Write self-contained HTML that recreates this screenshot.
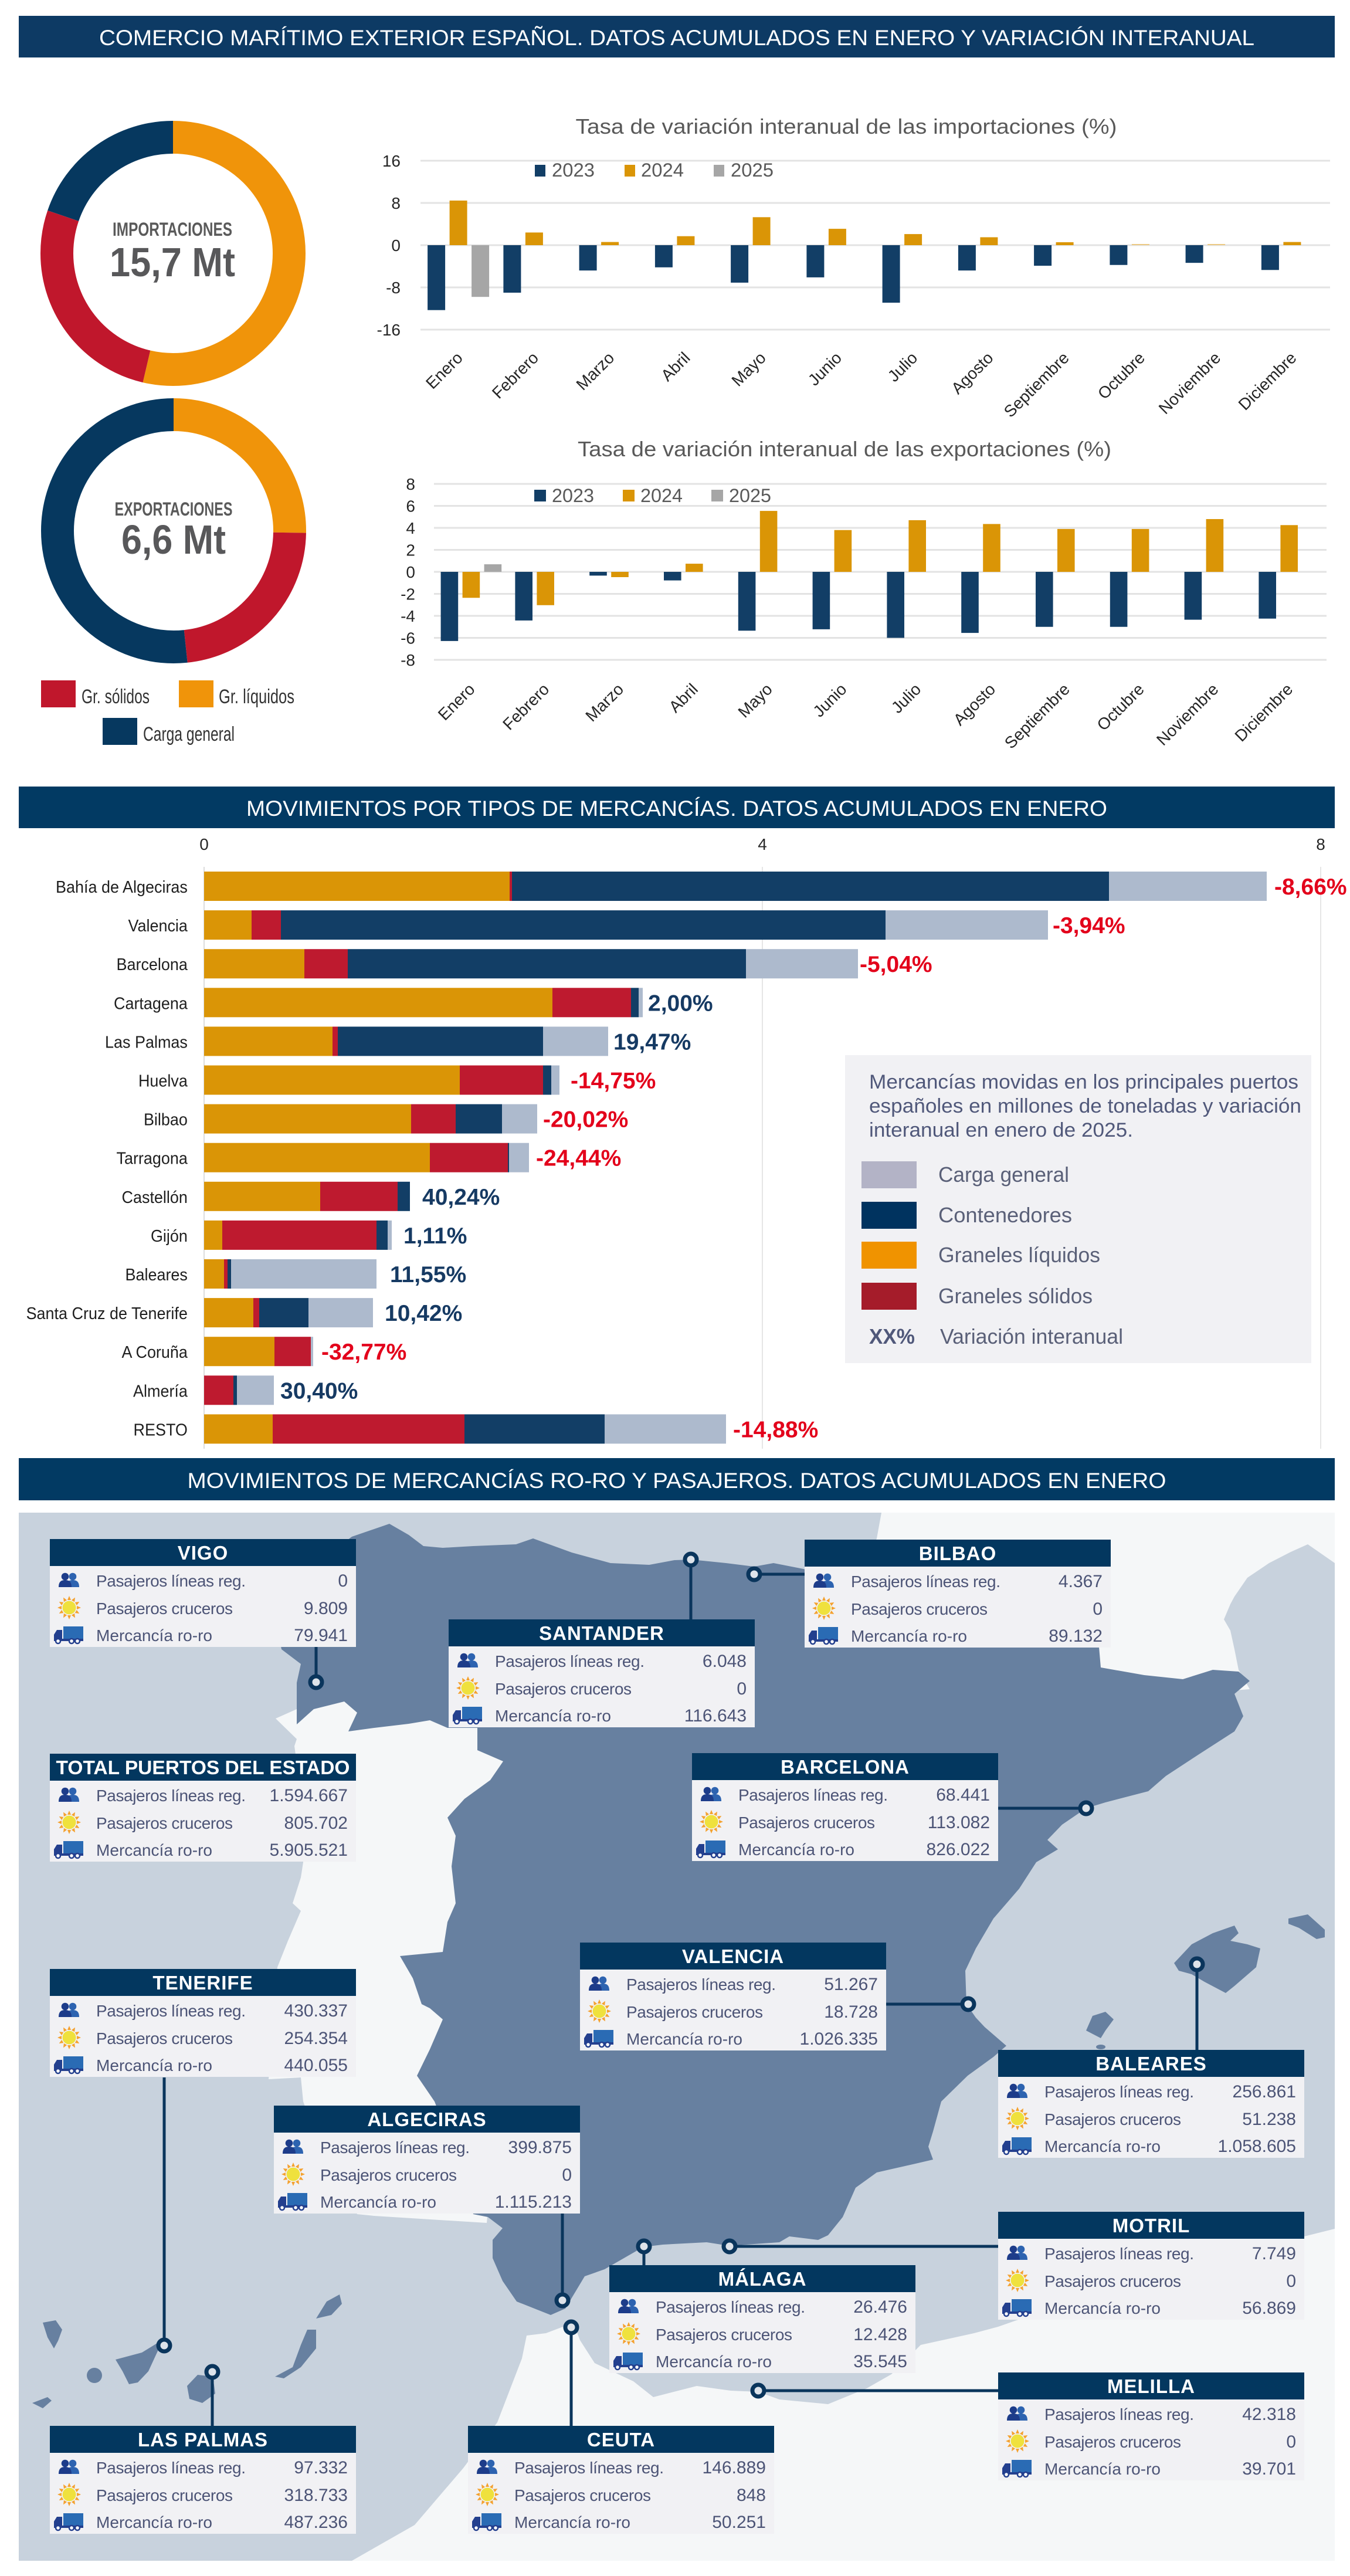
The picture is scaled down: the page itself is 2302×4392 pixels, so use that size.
<!DOCTYPE html>
<html><head><meta charset="utf-8">
<style>html,body{margin:0;padding:0;background:#fff;}svg{display:block}</style>
</head><body>
<svg xmlns="http://www.w3.org/2000/svg" width="2302" height="4392" viewBox="0 0 2302 4392">
<style>
text{font-family:"Liberation Sans",sans-serif;}
.n{font-family:"Liberation Sans Narrow","Liberation Sans",sans-serif;}
.hd{fill:#fff;font-size:37px;}
.yl{font-size:28px;fill:#262626;text-anchor:end;}
.ml{font-size:28px;fill:#262626;text-anchor:end;}
.cat{font-size:29px;fill:#1f1f1f;text-anchor:end;}
.vr{font-size:39px;font-weight:bold;fill:#e3001b;}
.vn{font-size:39px;font-weight:bold;fill:#163a63;}
.bh{font-size:33px;font-weight:bold;fill:#fff;text-anchor:middle;letter-spacing:1px;}
.bl{font-size:28px;fill:#4c5476;}
.bv{font-size:30px;fill:#4c5476;text-anchor:end;}
</style>
<defs>
<g id="ppl">
 <circle cx="6" cy="-6" r="6.3" fill="#2d63b0"/>
 <path d="M-5,12 C-5,2 0,0 6,0 C12,0 17,2 17,12 Z" fill="#2d63b0"/>
 <circle cx="-7" cy="-6" r="6.3" fill="#1d3c8a"/>
 <path d="M-18,12 C-18,2 -13,0 -7,0 C-1,0 4,2 4,12 Z" fill="#1d3c8a"/>
</g>
<g id="sun">
 <g fill="#f4a12e">
  <polygon points="-3,-13 3,-13 0,-20"/>
  <polygon points="-3,-13 3,-13 0,-20" transform="rotate(30)"/>
  <polygon points="-3,-13 3,-13 0,-20" transform="rotate(60)"/>
  <polygon points="-3,-13 3,-13 0,-20" transform="rotate(90)"/>
  <polygon points="-3,-13 3,-13 0,-20" transform="rotate(120)"/>
  <polygon points="-3,-13 3,-13 0,-20" transform="rotate(150)"/>
  <polygon points="-3,-13 3,-13 0,-20" transform="rotate(180)"/>
  <polygon points="-3,-13 3,-13 0,-20" transform="rotate(210)"/>
  <polygon points="-3,-13 3,-13 0,-20" transform="rotate(240)"/>
  <polygon points="-3,-13 3,-13 0,-20" transform="rotate(270)"/>
  <polygon points="-3,-13 3,-13 0,-20" transform="rotate(300)"/>
  <polygon points="-3,-13 3,-13 0,-20" transform="rotate(330)"/>
 </g>
 <circle r="11.5" fill="#efe13d"/>
</g>
<g id="truck">
 <rect x="-10" y="-14" width="34" height="21" fill="#2a6bb4"/>
 <path d="M-26,9 L-26,0 L-21,-8 L-12,-8 L-12,9 Z" fill="#233f8e"/>
 <rect x="-26" y="7" width="50" height="4" fill="#233f8e"/>
 <circle cx="-19" cy="11" r="4" fill="#fff" stroke="#233f8e" stroke-width="2.5"/>
 <circle cx="4" cy="11" r="4" fill="#fff" stroke="#233f8e" stroke-width="2.5"/>
 <circle cx="14" cy="11" r="4" fill="#fff" stroke="#233f8e" stroke-width="2.5"/>
</g>
<clipPath id="mapclip"><rect x="32" y="2579" width="2244" height="1787"/></clipPath>
</defs>

<!-- ============ SECTION 1 ============ -->
<rect x="32" y="27" width="2244" height="71" fill="#0d3a64"/>
<text class="n hd" x="1154" y="77" text-anchor="middle" textLength="1970" lengthAdjust="spacingAndGlyphs" font-size="36">COMERCIO MARÍTIMO EXTERIOR ESPAÑOL. DATOS ACUMULADOS EN ENERO Y VARIACIÓN INTERANUAL</text>

<g fill="none" stroke-width="56">
 <circle cx="295" cy="432" r="198" stroke="#f0940a" stroke-dasharray="667.3 1244.07" stroke-dashoffset="0" transform="rotate(-90 295 432)"/>
 <circle cx="295" cy="432" r="198" stroke="#c0172c" stroke-dasharray="330.7 1244.07" stroke-dashoffset="-667.3" transform="rotate(-90 295 432)"/>
 <circle cx="295" cy="432" r="198" stroke="#06385f" stroke-dasharray="246.1 1244.07" stroke-dashoffset="-998" transform="rotate(-90 295 432)"/>
 <circle cx="296" cy="905" r="198" stroke="#f0940a" stroke-dasharray="314.1 1244.07" stroke-dashoffset="0" transform="rotate(-90 296 905)"/>
 <circle cx="296" cy="905" r="198" stroke="#c0172c" stroke-dasharray="286.9 1244.07" stroke-dashoffset="-314.1" transform="rotate(-90 296 905)"/>
 <circle cx="296" cy="905" r="198" stroke="#06385f" stroke-dasharray="643.1 1244.07" stroke-dashoffset="-601" transform="rotate(-90 296 905)"/>
</g>
<text class="n" x="294" y="402" text-anchor="middle" font-size="32" font-weight="bold" fill="#5a5a5a" textLength="204" lengthAdjust="spacingAndGlyphs">IMPORTACIONES</text>
<text class="n" x="294" y="471" text-anchor="middle" font-size="70" font-weight="bold" fill="#58585a" textLength="214" lengthAdjust="spacingAndGlyphs">15,7 Mt</text>
<text class="n" x="296" y="879" text-anchor="middle" font-size="32" font-weight="bold" fill="#5a5a5a" textLength="201" lengthAdjust="spacingAndGlyphs">EXPORTACIONES</text>
<text class="n" x="296" y="944" text-anchor="middle" font-size="70" font-weight="bold" fill="#58585a" textLength="178" lengthAdjust="spacingAndGlyphs">6,6 Mt</text>

<rect x="70" y="1160" width="59" height="46" fill="#c0172c"/>
<text class="n" x="139" y="1199" font-size="34" fill="#333" textLength="116" lengthAdjust="spacingAndGlyphs">Gr. sólidos</text>
<rect x="305" y="1160" width="59" height="46" fill="#f0940a"/>
<text class="n" x="373" y="1199" font-size="34" fill="#333" textLength="129" lengthAdjust="spacingAndGlyphs">Gr. líquidos</text>
<rect x="175" y="1224" width="59" height="46" fill="#06385f"/>
<text class="n" x="244" y="1263" font-size="34" fill="#333" textLength="156" lengthAdjust="spacingAndGlyphs">Carga general</text>

<!-- Import chart -->
<text class="n" x="1443" y="228" text-anchor="middle" font-size="36" fill="#595959" textLength="923" lengthAdjust="spacingAndGlyphs">Tasa de variación interanual de las importaciones (%)</text>
<g stroke="#e3e3e3" stroke-width="3">
 <line x1="717" y1="274" x2="2268" y2="274"/>
 <line x1="717" y1="346" x2="2268" y2="346"/>
 <line x1="717" y1="418" x2="2268" y2="418"/>
 <line x1="717" y1="490" x2="2268" y2="490"/>
 <line x1="717" y1="562" x2="2268" y2="562"/>
</g>
<text class="yl" x="683" y="284">16</text>
<text class="yl" x="683" y="356">8</text>
<text class="yl" x="683" y="428">0</text>
<text class="yl" x="683" y="500">-8</text>
<text class="yl" x="683" y="572">-16</text>
<rect x="912" y="281" width="18" height="20" fill="#123e66"/>
<text class="n" x="941" y="301" font-size="32" fill="#595959" textLength="73" lengthAdjust="spacingAndGlyphs">2023</text>
<rect x="1065" y="281" width="18" height="20" fill="#da9506"/>
<text class="n" x="1093" y="301" font-size="32" fill="#595959" textLength="73" lengthAdjust="spacingAndGlyphs">2024</text>
<rect x="1217" y="281" width="18" height="20" fill="#a6a6a6"/>
<text class="n" x="1246" y="301" font-size="32" fill="#595959" textLength="73" lengthAdjust="spacingAndGlyphs">2025</text>
<g fill="#123e66">
 <rect x="729.1" y="418" width="30" height="110.7"/>
 <rect x="858.4" y="418" width="30" height="81"/>
 <rect x="987.6" y="418" width="30" height="43.2"/>
 <rect x="1116.9" y="418" width="30" height="37.8"/>
 <rect x="1246.1" y="418" width="30" height="63.9"/>
 <rect x="1375.4" y="418" width="30" height="54.9"/>
 <rect x="1504.6" y="418" width="30" height="98.1"/>
 <rect x="1633.9" y="418" width="30" height="43.2"/>
 <rect x="1763.1" y="418" width="30" height="35.1"/>
 <rect x="1892.4" y="418" width="30" height="33.75"/>
 <rect x="2021.6" y="418" width="30" height="30.15"/>
 <rect x="2150.9" y="418" width="30" height="42.3"/>
</g>
<g fill="#da9506">
 <rect x="766.6" y="341.95" width="30" height="76.05"/>
 <rect x="895.9" y="396.4" width="30" height="21.6"/>
 <rect x="1025.1" y="412.6" width="30" height="5.4"/>
 <rect x="1154.4" y="402.7" width="30" height="15.3"/>
 <rect x="1283.6" y="370.3" width="30" height="47.7"/>
 <rect x="1412.9" y="390.1" width="30" height="27.9"/>
 <rect x="1542.1" y="399.1" width="30" height="18.9"/>
 <rect x="1671.4" y="404.5" width="30" height="13.5"/>
 <rect x="1800.6" y="413" width="30" height="5"/>
 <rect x="1929.9" y="416" width="30" height="2" fill="#ebc983"/>
 <rect x="2059.1" y="416" width="30" height="2" fill="#ebc983"/>
 <rect x="2188.4" y="412.6" width="30" height="5.4"/>
</g>
<rect x="804.1" y="418" width="30" height="88.2" fill="#a6a6a6"/>
<g>
 <text class="ml" x="790.6" y="612" transform="rotate(-45 790.6 612)">Enero</text>
 <text class="ml" x="919.9" y="612" transform="rotate(-45 919.9 612)">Febrero</text>
 <text class="ml" x="1049.1" y="612" transform="rotate(-45 1049.1 612)">Marzo</text>
 <text class="ml" x="1178.4" y="612" transform="rotate(-45 1178.4 612)">Abril</text>
 <text class="ml" x="1307.6" y="612" transform="rotate(-45 1307.6 612)">Mayo</text>
 <text class="ml" x="1436.9" y="612" transform="rotate(-45 1436.9 612)">Junio</text>
 <text class="ml" x="1566.1" y="612" transform="rotate(-45 1566.1 612)">Julio</text>
 <text class="ml" x="1695.4" y="612" transform="rotate(-45 1695.4 612)">Agosto</text>
 <text class="ml" x="1824.6" y="612" transform="rotate(-45 1824.6 612)">Septiembre</text>
 <text class="ml" x="1953.9" y="612" transform="rotate(-45 1953.9 612)">Octubre</text>
 <text class="ml" x="2083.1" y="612" transform="rotate(-45 2083.1 612)">Noviembre</text>
 <text class="ml" x="2212.4" y="612" transform="rotate(-45 2212.4 612)">Diciembre</text>
</g>

<!-- Export chart -->
<text class="n" x="1440" y="778" text-anchor="middle" font-size="36" fill="#595959" textLength="910" lengthAdjust="spacingAndGlyphs">Tasa de variación interanual de las exportaciones (%)</text>
<g stroke="#e3e3e3" stroke-width="3">
 <line x1="740" y1="825" x2="2262" y2="825"/>
 <line x1="740" y1="862.5" x2="2262" y2="862.5"/>
 <line x1="740" y1="900" x2="2262" y2="900"/>
 <line x1="740" y1="937.5" x2="2262" y2="937.5"/>
 <line x1="740" y1="975" x2="2262" y2="975"/>
 <line x1="740" y1="1012.5" x2="2262" y2="1012.5"/>
 <line x1="740" y1="1050" x2="2262" y2="1050"/>
 <line x1="740" y1="1087.5" x2="2262" y2="1087.5"/>
 <line x1="740" y1="1125" x2="2262" y2="1125"/>
</g>
<text class="yl" x="708" y="835">8</text>
<text class="yl" x="708" y="872.5">6</text>
<text class="yl" x="708" y="910">4</text>
<text class="yl" x="708" y="947.5">2</text>
<text class="yl" x="708" y="985">0</text>
<text class="yl" x="708" y="1022.5">-2</text>
<text class="yl" x="708" y="1060">-4</text>
<text class="yl" x="708" y="1097.5">-6</text>
<text class="yl" x="708" y="1135">-8</text>
<rect x="911" y="835" width="20" height="20" fill="#123e66"/>
<text class="n" x="941" y="856" font-size="32" fill="#595959" textLength="72" lengthAdjust="spacingAndGlyphs">2023</text>
<rect x="1062" y="835" width="20" height="20" fill="#da9506"/>
<text class="n" x="1092" y="856" font-size="32" fill="#595959" textLength="72" lengthAdjust="spacingAndGlyphs">2024</text>
<rect x="1213" y="835" width="20" height="20" fill="#a6a6a6"/>
<text class="n" x="1243" y="856" font-size="32" fill="#595959" textLength="72" lengthAdjust="spacingAndGlyphs">2025</text>
<g fill="#123e66">
 <rect x="751.6" y="975" width="29.6" height="117.9"/>
 <rect x="878.4" y="975" width="29.6" height="82.9"/>
 <rect x="1005.2" y="975" width="29.6" height="6.4"/>
 <rect x="1132" y="975" width="29.6" height="14.6"/>
 <rect x="1258.8" y="975" width="29.6" height="100.3"/>
 <rect x="1385.6" y="975" width="29.6" height="97.9"/>
 <rect x="1512.4" y="975" width="29.6" height="112.5"/>
 <rect x="1639.2" y="975" width="29.6" height="104.1"/>
 <rect x="1766" y="975" width="29.6" height="93.75"/>
 <rect x="1892.8" y="975" width="29.6" height="93.75"/>
 <rect x="2019.6" y="975" width="29.6" height="81.6"/>
 <rect x="2146.4" y="975" width="29.6" height="79.7"/>
</g>
<g fill="#da9506">
 <rect x="788.6" y="975" width="29.6" height="44.25"/>
 <rect x="915.4" y="975" width="29.6" height="56.8"/>
 <rect x="1042.2" y="975" width="29.6" height="9"/>
 <rect x="1169" y="961.1" width="29.6" height="13.9"/>
 <rect x="1295.8" y="871.1" width="29.6" height="103.9"/>
 <rect x="1422.6" y="903.75" width="29.6" height="71.25"/>
 <rect x="1549.4" y="886.9" width="29.6" height="88.1"/>
 <rect x="1676.2" y="893.4" width="29.6" height="81.6"/>
 <rect x="1803" y="901.9" width="29.6" height="73.1"/>
 <rect x="1929.8" y="901.9" width="29.6" height="73.1"/>
 <rect x="2056.6" y="885" width="29.6" height="90"/>
 <rect x="2183.4" y="895.3" width="29.6" height="79.7"/>
</g>
<rect x="825.6" y="962.1" width="29.6" height="12.9" fill="#a6a6a6"/>
<g>
 <text class="ml" x="811.4" y="1177" transform="rotate(-45 811.4 1177)">Enero</text>
 <text class="ml" x="938.2" y="1177" transform="rotate(-45 938.2 1177)">Febrero</text>
 <text class="ml" x="1065" y="1177" transform="rotate(-45 1065 1177)">Marzo</text>
 <text class="ml" x="1191.8" y="1177" transform="rotate(-45 1191.8 1177)">Abril</text>
 <text class="ml" x="1318.6" y="1177" transform="rotate(-45 1318.6 1177)">Mayo</text>
 <text class="ml" x="1445.4" y="1177" transform="rotate(-45 1445.4 1177)">Junio</text>
 <text class="ml" x="1572.2" y="1177" transform="rotate(-45 1572.2 1177)">Julio</text>
 <text class="ml" x="1699" y="1177" transform="rotate(-45 1699 1177)">Agosto</text>
 <text class="ml" x="1825.8" y="1177" transform="rotate(-45 1825.8 1177)">Septiembre</text>
 <text class="ml" x="1952.6" y="1177" transform="rotate(-45 1952.6 1177)">Octubre</text>
 <text class="ml" x="2079.4" y="1177" transform="rotate(-45 2079.4 1177)">Noviembre</text>
 <text class="ml" x="2206.2" y="1177" transform="rotate(-45 2206.2 1177)">Diciembre</text>
</g>

<!-- ============ SECTION 2 ============ -->
<rect x="32" y="1341" width="2244" height="71" fill="#023a63"/>
<text class="hd" x="1154" y="1391" text-anchor="middle" textLength="1468" lengthAdjust="spacingAndGlyphs">MOVIMIENTOS POR TIPOS DE MERCANCÍAS. DATOS ACUMULADOS EN ENERO</text>
<text x="348" y="1449" font-size="28" fill="#262626" text-anchor="middle">0</text>
<text x="1300" y="1449" font-size="28" fill="#262626" text-anchor="middle">4</text>
<text x="2252" y="1449" font-size="28" fill="#262626" text-anchor="middle">8</text>
<line x1="1300" y1="1478" x2="1300" y2="2470" stroke="#e6e6e6" stroke-width="2"/>
<line x1="2252" y1="1478" x2="2252" y2="2470" stroke="#e6e6e6" stroke-width="2"/>
<line x1="348" y1="1478" x2="348" y2="2470" stroke="#dcdcdc" stroke-width="2"/>

<g transform="scale(0.93,1)">
 <text class="cat" x="344" y="1522">Bahía de Algeciras</text>
 <text class="cat" x="344" y="1588.1">Valencia</text>
 <text class="cat" x="344" y="1654.2">Barcelona</text>
 <text class="cat" x="344" y="1720.3">Cartagena</text>
 <text class="cat" x="344" y="1786.4">Las Palmas</text>
 <text class="cat" x="344" y="1852.5">Huelva</text>
 <text class="cat" x="344" y="1918.6">Bilbao</text>
 <text class="cat" x="344" y="1984.7">Tarragona</text>
 <text class="cat" x="344" y="2050.8">Castellón</text>
 <text class="cat" x="344" y="2116.9">Gijón</text>
 <text class="cat" x="344" y="2183">Baleares</text>
 <text class="cat" x="344" y="2249.1">Santa Cruz de Tenerife</text>
 <text class="cat" x="344" y="2315.2">A Coruña</text>
 <text class="cat" x="344" y="2381.3">Almería</text>
 <text class="cat" x="344" y="2447.4">RESTO</text>
</g>

<g transform="translate(0,1486)">
 <rect x="348" width="521" height="50" fill="#da9506"/><rect x="869" width="4" height="50" fill="#be1a2f"/><rect x="873" width="1018" height="50" fill="#123e66"/><rect x="1891" width="269" height="50" fill="#adbacd"/>
 <text class="vr" x="2173" y="39">-8,66%</text>
</g>
<g transform="translate(0,1552.1)">
 <rect x="348" width="81" height="50" fill="#da9506"/><rect x="429" width="50" height="50" fill="#be1a2f"/><rect x="479" width="1031" height="50" fill="#123e66"/><rect x="1510" width="277" height="50" fill="#adbacd"/>
 <text class="vr" x="1795" y="39">-3,94%</text>
</g>
<g transform="translate(0,1618.2)">
 <rect x="348" width="171" height="50" fill="#da9506"/><rect x="519" width="74" height="50" fill="#be1a2f"/><rect x="593" width="679" height="50" fill="#123e66"/><rect x="1272" width="191" height="50" fill="#adbacd"/>
 <text class="vr" x="1466" y="39">-5,04%</text>
</g>
<g transform="translate(0,1684.3)">
 <rect x="348" width="594" height="50" fill="#da9506"/><rect x="942" width="134" height="50" fill="#be1a2f"/><rect x="1076" width="13" height="50" fill="#123e66"/><rect x="1089" width="7" height="50" fill="#adbacd"/>
 <text class="vn" x="1105" y="39">2,00%</text>
</g>
<g transform="translate(0,1750.4)">
 <rect x="348" width="219" height="50" fill="#da9506"/><rect x="567" width="9" height="50" fill="#be1a2f"/><rect x="576" width="350" height="50" fill="#123e66"/><rect x="926" width="111" height="50" fill="#adbacd"/>
 <text class="vn" x="1046" y="39">19,47%</text>
</g>
<g transform="translate(0,1816.5)">
 <rect x="348" width="436" height="50" fill="#da9506"/><rect x="784" width="142" height="50" fill="#be1a2f"/><rect x="926" width="14" height="50" fill="#123e66"/><rect x="940" width="14" height="50" fill="#adbacd"/>
 <text class="vr" x="973" y="39">-14,75%</text>
</g>
<g transform="translate(0,1882.6)">
 <rect x="348" width="353" height="50" fill="#da9506"/><rect x="701" width="76" height="50" fill="#be1a2f"/><rect x="777" width="79" height="50" fill="#123e66"/><rect x="856" width="60" height="50" fill="#adbacd"/>
 <text class="vr" x="926" y="39">-20,02%</text>
</g>
<g transform="translate(0,1948.7)">
 <rect x="348" width="385" height="50" fill="#da9506"/><rect x="733" width="133" height="50" fill="#be1a2f"/><rect x="866" width="2" height="50" fill="#123e66"/><rect x="868" width="34" height="50" fill="#adbacd"/>
 <text class="vr" x="914" y="39">-24,44%</text>
</g>
<g transform="translate(0,2014.8)">
 <rect x="348" width="198" height="50" fill="#da9506"/><rect x="546" width="132" height="50" fill="#be1a2f"/><rect x="678" width="21" height="50" fill="#123e66"/>
 <text class="vn" x="720" y="39">40,24%</text>
</g>
<g transform="translate(0,2080.9)">
 <rect x="348" width="31" height="50" fill="#da9506"/><rect x="379" width="263" height="50" fill="#be1a2f"/><rect x="642" width="19" height="50" fill="#123e66"/><rect x="661" width="7" height="50" fill="#adbacd"/>
 <text class="vn" x="688" y="39">1,11%</text>
</g>
<g transform="translate(0,2147)">
 <rect x="348" width="34" height="50" fill="#da9506"/><rect x="382" width="6" height="50" fill="#be1a2f"/><rect x="388" width="6" height="50" fill="#123e66"/><rect x="394" width="248" height="50" fill="#adbacd"/>
 <text class="vn" x="665" y="39">11,55%</text>
</g>
<g transform="translate(0,2213.1)">
 <rect x="348" width="84" height="50" fill="#da9506"/><rect x="432" width="10" height="50" fill="#be1a2f"/><rect x="442" width="84" height="50" fill="#123e66"/><rect x="526" width="110" height="50" fill="#adbacd"/>
 <text class="vn" x="656" y="39">10,42%</text>
</g>
<g transform="translate(0,2279.2)">
 <rect x="348" width="120" height="50" fill="#da9506"/><rect x="468" width="62" height="50" fill="#be1a2f"/><rect x="530" width="4" height="50" fill="#adbacd"/>
 <text class="vr" x="548" y="39">-32,77%</text>
</g>
<g transform="translate(0,2345.3)">
 <rect x="348" width="50" height="50" fill="#be1a2f"/><rect x="398" width="6" height="50" fill="#123e66"/><rect x="404" width="63" height="50" fill="#adbacd"/>
 <text class="vn" x="478" y="39">30,40%</text>
</g>
<g transform="translate(0,2411.4)">
 <rect x="348" width="117" height="50" fill="#da9506"/><rect x="465" width="327" height="50" fill="#be1a2f"/><rect x="792" width="239" height="50" fill="#123e66"/><rect x="1031" width="207" height="50" fill="#adbacd"/>
 <text class="vr" x="1250" y="39">-14,88%</text>
</g>

<rect x="1441" y="1799" width="795" height="525" fill="#f1f1f4"/>
<text x="1482" y="1856" font-size="34" fill="#50587a" textLength="732" lengthAdjust="spacingAndGlyphs">Mercancías movidas en los principales puertos</text>
<text x="1482" y="1897" font-size="34" fill="#50587a" textLength="737" lengthAdjust="spacingAndGlyphs">españoles en millones de toneladas y variación</text>
<text x="1482" y="1938" font-size="34" fill="#50587a" textLength="450" lengthAdjust="spacingAndGlyphs">interanual en enero de 2025.</text>
<rect x="1469" y="1980" width="94" height="46" fill="#b3b3c6"/>
<rect x="1469" y="2049" width="94" height="46" fill="#00335f"/>
<rect x="1469" y="2117" width="94" height="46" fill="#f09300"/>
<rect x="1469" y="2187" width="94" height="46" fill="#a51c2a"/>
<text x="1600" y="2015" font-size="36" fill="#5a6078" textLength="223" lengthAdjust="spacingAndGlyphs">Carga general</text>
<text x="1600" y="2084" font-size="36" fill="#5a6078" textLength="228" lengthAdjust="spacingAndGlyphs">Contenedores</text>
<text x="1600" y="2152" font-size="36" fill="#5a6078" textLength="276" lengthAdjust="spacingAndGlyphs">Graneles líquidos</text>
<text x="1600" y="2222" font-size="36" fill="#5a6078" textLength="263" lengthAdjust="spacingAndGlyphs">Graneles sólidos</text>
<text x="1482" y="2291" font-size="36" font-weight="bold" fill="#50587a" textLength="78" lengthAdjust="spacingAndGlyphs">XX%</text>
<text x="1603" y="2291" font-size="36" fill="#5a6078" textLength="312" lengthAdjust="spacingAndGlyphs">Variación interanual</text>

<!-- ============ SECTION 3 ============ -->
<rect x="32" y="2486" width="2244" height="72" fill="#023a63"/>
<text class="hd" x="1154" y="2537" text-anchor="middle" textLength="1669" lengthAdjust="spacingAndGlyphs">MOVIMIENTOS DE MERCANCÍAS RO-RO Y PASAJEROS.  DATOS ACUMULADOS EN ENERO</text>

<rect x="32" y="2579" width="2244" height="1787" fill="#c8d2dd"/>
<g clip-path="url(#mapclip)">
 <polygon fill="#f5f7f8" points="1480,2579 2276,2579 2276,2665 2230,2633 2201,2646 2164,2665 2127,2690 2105,2722 2098,2735 2087,2761 2098,2780 2105,2812 2112,2847 2131,2880 1870,2900 1450,2720 1495,2623 1503,2579"/>
 <polygon fill="#f5f7f8" points="470,2930 506,2965 502,2977 513,3054 517,3175 513,3201 499,3245 513,3258 491,3309 473,3354 458,3545 513,3542 517,3583 560,3700 609,3775 638,3778 830,3790 900,3000 820,2890 560,2890"/>
 <polygon fill="#f5f7f8" points="600,4366 707,4305 790,4208 848,4130 890,4021 898,3982 931,3978 960,3967 977,3958 989,3990 1014,4029 1080,4060 1114,4087 1188,4068 1246,4076 1293,4078 1329,4091 1412,4099 1478,4072 1520,4048 1570,3998 1661,3978 1702,3967 1950,3880 2224,3813 2276,3800 2276,4366"/>
 <polygon fill="#6780a0" points="600,2620 664,2598 697,2617 722,2636 755,2639 807,2636 880,2633 909,2623 975,2647 1041,2665 1107,2668 1150,2660 1179,2659 1238,2665 1286,2671 1319,2665 1370,2675 1460,2700 1874,2808 1877,2843 1951,2856 2017,2863 2068,2847 2112,2850 2131,2866 2105,2888 2120,2926 2105,2952 2046,2990 1988,3028 1958,3054 1885,3073 1852,3083 1811,3111 1786,3137 1804,3153 1767,3175 1738,3220 1694,3271 1664,3322 1646,3360 1648,3417 1664,3440 1679,3456 1716,3488 1694,3507 1650,3539 1605,3583 1591,3634 1583,3660 1591,3682 1561,3689 1495,3704 1459,3730 1437,3780 1412,3811 1395,3819 1346,3813 1329,3823 1243,3829 1205,3823 1130,3827 1097,3831 1031,3869 997,3881 964,3936 939,3947 881,3924 857,3889 840,3850 840,3819 857,3799 832,3780 807,3775 790,3720 763,3640 741,3583 711,3539 733,3494 755,3443 733,3424 719,3417 704,3373 682,3335 755,3328 763,3277 777,3245 770,3182 777,3130 763,3099 792,3067 836,3035 858,3003 814,2984 814,2946 763,2946 733,2933 697,2939 638,2946 594,2952 609,2920 587,2901 535,2914 506,2940 506,2901 506,2869 513,2837 480,2812 470,2760 520,2700 560,2650"/>
 <polygon fill="#6780a0" points="2002,3347 2032,3315 2068,3296 2105,3283 2112,3296 2098,3309 2127,3315 2149,3322 2142,3354 2105,3386 2090,3398 2054,3379 2032,3366 2010,3360"/>
 <polygon fill="#6780a0" points="2197,3271 2230,3264 2259,3290 2259,3303 2245,3306 2215,3287 2197,3280"/>
 <polygon fill="#6780a0" points="1852,3462 1863,3437 1885,3430 1899,3443 1885,3462 1877,3475"/>
 <ellipse cx="1877" cy="3490" rx="8" ry="4" fill="#6780a0"/>
 <polygon fill="#6780a0" points="73,3960 95,3956 106,3972 99,3991 92,4004 81,3985"/>
 <polygon fill="#6780a0" points="55,4097 81,4087 88,4093 73,4106"/>
 <circle cx="161" cy="4050" r="13" fill="#6780a0"/>
 <polygon fill="#6780a0" points="197,4023 242,4011 268,3995 271,4004 253,4043 235,4062 220,4065 209,4043"/>
 <polygon fill="#6780a0" points="319,4068 337,4049 363,4052 367,4081 345,4097 323,4090"/>
 <polygon fill="#6780a0" points="469,4052 499,4036 513,3998 524,3972 539,3972 539,4004 513,4036 484,4055"/>
 <polygon fill="#6780a0" points="539,3953 557,3924 579,3912 583,3928 565,3947"/>
</g>

<g stroke="#0a355c" stroke-width="5">
 <line x1="539" y1="2808" x2="539" y2="2868"/>
 <line x1="1178" y1="2659" x2="1178" y2="2761"/>
 <line x1="1286" y1="2684" x2="1372" y2="2684"/>
 <line x1="1701" y1="3083" x2="1852" y2="3083"/>
 <line x1="1511" y1="3417" x2="1651" y2="3417"/>
 <line x1="2041" y1="3349" x2="2041" y2="3495"/>
 <line x1="280" y1="3542" x2="280" y2="3999"/>
 <line x1="362" y1="4044" x2="362" y2="4136"/>
 <line x1="959" y1="3770" x2="959" y2="3922"/>
 <line x1="974" y1="3968" x2="974" y2="4136"/>
 <line x1="1098" y1="3830" x2="1098" y2="3862"/>
 <line x1="1244" y1="3830" x2="1702" y2="3830"/>
 <line x1="1293" y1="4076" x2="1702" y2="4076"/>
</g>

<g transform="translate(85,2624)">
 <rect width="522" height="46" fill="#03375f"/><rect y="46" width="522" height="138" fill="#f1f1f4"/>
 <text class="bh" x="261" y="35">VIGO</text>
 <use href="#ppl" x="33" y="70"/><use href="#sun" x="33" y="117"/><use href="#truck" x="33" y="163"/>
 <text class="bl" x="79" y="81" textLength="255">Pasajeros líneas reg.</text>
 <text class="bl" x="79" y="128" textLength="233">Pasajeros cruceros</text>
 <text class="bl" x="79" y="174" textLength="198">Mercancía ro-ro</text>
 <text class="bv" x="508" y="81">0</text><text class="bv" x="508" y="128">9.809</text><text class="bv" x="508" y="174">79.941</text>
</g>
<g transform="translate(765,2761)">
 <rect width="522" height="46" fill="#03375f"/><rect y="46" width="522" height="138" fill="#f1f1f4"/>
 <text class="bh" x="261" y="35">SANTANDER</text>
 <use href="#ppl" x="33" y="70"/><use href="#sun" x="33" y="117"/><use href="#truck" x="33" y="163"/>
 <text class="bl" x="79" y="81" textLength="255">Pasajeros líneas reg.</text>
 <text class="bl" x="79" y="128" textLength="233">Pasajeros cruceros</text>
 <text class="bl" x="79" y="174" textLength="198">Mercancía ro-ro</text>
 <text class="bv" x="508" y="81">6.048</text><text class="bv" x="508" y="128">0</text><text class="bv" x="508" y="174">116.643</text>
</g>
<g transform="translate(1372,2625)">
 <rect width="522" height="46" fill="#03375f"/><rect y="46" width="522" height="138" fill="#f1f1f4"/>
 <text class="bh" x="261" y="35">BILBAO</text>
 <use href="#ppl" x="33" y="70"/><use href="#sun" x="33" y="117"/><use href="#truck" x="33" y="163"/>
 <text class="bl" x="79" y="81" textLength="255">Pasajeros líneas reg.</text>
 <text class="bl" x="79" y="128" textLength="233">Pasajeros cruceros</text>
 <text class="bl" x="79" y="174" textLength="198">Mercancía ro-ro</text>
 <text class="bv" x="508" y="81">4.367</text><text class="bv" x="508" y="128">0</text><text class="bv" x="508" y="174">89.132</text>
</g>
<g transform="translate(85,2990)">
 <rect width="522" height="46" fill="#03375f"/><rect y="46" width="522" height="138" fill="#f1f1f4"/>
 <text class="bh" x="261" y="35" textLength="501" lengthAdjust="spacingAndGlyphs" style="letter-spacing:0">TOTAL PUERTOS DEL ESTADO</text>
 <use href="#ppl" x="33" y="70"/><use href="#sun" x="33" y="117"/><use href="#truck" x="33" y="163"/>
 <text class="bl" x="79" y="81" textLength="255">Pasajeros líneas reg.</text>
 <text class="bl" x="79" y="128" textLength="233">Pasajeros cruceros</text>
 <text class="bl" x="79" y="174" textLength="198">Mercancía ro-ro</text>
 <text class="bv" x="508" y="81">1.594.667</text><text class="bv" x="508" y="128">805.702</text><text class="bv" x="508" y="174">5.905.521</text>
</g>
<g transform="translate(1180,2989)">
 <rect width="522" height="46" fill="#03375f"/><rect y="46" width="522" height="138" fill="#f1f1f4"/>
 <text class="bh" x="261" y="35">BARCELONA</text>
 <use href="#ppl" x="33" y="70"/><use href="#sun" x="33" y="117"/><use href="#truck" x="33" y="163"/>
 <text class="bl" x="79" y="81" textLength="255">Pasajeros líneas reg.</text>
 <text class="bl" x="79" y="128" textLength="233">Pasajeros cruceros</text>
 <text class="bl" x="79" y="174" textLength="198">Mercancía ro-ro</text>
 <text class="bv" x="508" y="81">68.441</text><text class="bv" x="508" y="128">113.082</text><text class="bv" x="508" y="174">826.022</text>
</g>
<g transform="translate(85,3357)">
 <rect width="522" height="46" fill="#03375f"/><rect y="46" width="522" height="138" fill="#f1f1f4"/>
 <text class="bh" x="261" y="35">TENERIFE</text>
 <use href="#ppl" x="33" y="70"/><use href="#sun" x="33" y="117"/><use href="#truck" x="33" y="163"/>
 <text class="bl" x="79" y="81" textLength="255">Pasajeros líneas reg.</text>
 <text class="bl" x="79" y="128" textLength="233">Pasajeros cruceros</text>
 <text class="bl" x="79" y="174" textLength="198">Mercancía ro-ro</text>
 <text class="bv" x="508" y="81">430.337</text><text class="bv" x="508" y="128">254.354</text><text class="bv" x="508" y="174">440.055</text>
</g>
<g transform="translate(989,3312)">
 <rect width="522" height="46" fill="#03375f"/><rect y="46" width="522" height="138" fill="#f1f1f4"/>
 <text class="bh" x="261" y="35">VALENCIA</text>
 <use href="#ppl" x="33" y="70"/><use href="#sun" x="33" y="117"/><use href="#truck" x="33" y="163"/>
 <text class="bl" x="79" y="81" textLength="255">Pasajeros líneas reg.</text>
 <text class="bl" x="79" y="128" textLength="233">Pasajeros cruceros</text>
 <text class="bl" x="79" y="174" textLength="198">Mercancía ro-ro</text>
 <text class="bv" x="508" y="81">51.267</text><text class="bv" x="508" y="128">18.728</text><text class="bv" x="508" y="174">1.026.335</text>
</g>
<g transform="translate(1702,3495)">
 <rect width="522" height="46" fill="#03375f"/><rect y="46" width="522" height="138" fill="#f1f1f4"/>
 <text class="bh" x="261" y="35">BALEARES</text>
 <use href="#ppl" x="33" y="70"/><use href="#sun" x="33" y="117"/><use href="#truck" x="33" y="163"/>
 <text class="bl" x="79" y="81" textLength="255">Pasajeros líneas reg.</text>
 <text class="bl" x="79" y="128" textLength="233">Pasajeros cruceros</text>
 <text class="bl" x="79" y="174" textLength="198">Mercancía ro-ro</text>
 <text class="bv" x="508" y="81">256.861</text><text class="bv" x="508" y="128">51.238</text><text class="bv" x="508" y="174">1.058.605</text>
</g>
<g transform="translate(467,3590)">
 <rect width="522" height="46" fill="#03375f"/><rect y="46" width="522" height="138" fill="#f1f1f4"/>
 <text class="bh" x="261" y="35">ALGECIRAS</text>
 <use href="#ppl" x="33" y="70"/><use href="#sun" x="33" y="117"/><use href="#truck" x="33" y="163"/>
 <text class="bl" x="79" y="81" textLength="255">Pasajeros líneas reg.</text>
 <text class="bl" x="79" y="128" textLength="233">Pasajeros cruceros</text>
 <text class="bl" x="79" y="174" textLength="198">Mercancía ro-ro</text>
 <text class="bv" x="508" y="81">399.875</text><text class="bv" x="508" y="128">0</text><text class="bv" x="508" y="174">1.115.213</text>
</g>
<g transform="translate(1702,3771)">
 <rect width="522" height="46" fill="#03375f"/><rect y="46" width="522" height="138" fill="#f1f1f4"/>
 <text class="bh" x="261" y="35">MOTRIL</text>
 <use href="#ppl" x="33" y="70"/><use href="#sun" x="33" y="117"/><use href="#truck" x="33" y="163"/>
 <text class="bl" x="79" y="81" textLength="255">Pasajeros líneas reg.</text>
 <text class="bl" x="79" y="128" textLength="233">Pasajeros cruceros</text>
 <text class="bl" x="79" y="174" textLength="198">Mercancía ro-ro</text>
 <text class="bv" x="508" y="81">7.749</text><text class="bv" x="508" y="128">0</text><text class="bv" x="508" y="174">56.869</text>
</g>
<g transform="translate(1039,3862)">
 <rect width="522" height="46" fill="#03375f"/><rect y="46" width="522" height="138" fill="#f1f1f4"/>
 <text class="bh" x="261" y="35">MÁLAGA</text>
 <use href="#ppl" x="33" y="70"/><use href="#sun" x="33" y="117"/><use href="#truck" x="33" y="163"/>
 <text class="bl" x="79" y="81" textLength="255">Pasajeros líneas reg.</text>
 <text class="bl" x="79" y="128" textLength="233">Pasajeros cruceros</text>
 <text class="bl" x="79" y="174" textLength="198">Mercancía ro-ro</text>
 <text class="bv" x="508" y="81">26.476</text><text class="bv" x="508" y="128">12.428</text><text class="bv" x="508" y="174">35.545</text>
</g>
<g transform="translate(1702,4045)">
 <rect width="522" height="46" fill="#03375f"/><rect y="46" width="522" height="138" fill="#f1f1f4"/>
 <text class="bh" x="261" y="35">MELILLA</text>
 <use href="#ppl" x="33" y="70"/><use href="#sun" x="33" y="117"/><use href="#truck" x="33" y="163"/>
 <text class="bl" x="79" y="81" textLength="255">Pasajeros líneas reg.</text>
 <text class="bl" x="79" y="128" textLength="233">Pasajeros cruceros</text>
 <text class="bl" x="79" y="174" textLength="198">Mercancía ro-ro</text>
 <text class="bv" x="508" y="81">42.318</text><text class="bv" x="508" y="128">0</text><text class="bv" x="508" y="174">39.701</text>
</g>
<g transform="translate(85,4136)">
 <rect width="522" height="46" fill="#03375f"/><rect y="46" width="522" height="138" fill="#f1f1f4"/>
 <text class="bh" x="261" y="35">LAS PALMAS</text>
 <use href="#ppl" x="33" y="70"/><use href="#sun" x="33" y="117"/><use href="#truck" x="33" y="163"/>
 <text class="bl" x="79" y="81" textLength="255">Pasajeros líneas reg.</text>
 <text class="bl" x="79" y="128" textLength="233">Pasajeros cruceros</text>
 <text class="bl" x="79" y="174" textLength="198">Mercancía ro-ro</text>
 <text class="bv" x="508" y="81">97.332</text><text class="bv" x="508" y="128">318.733</text><text class="bv" x="508" y="174">487.236</text>
</g>
<g transform="translate(798,4136)">
 <rect width="522" height="46" fill="#03375f"/><rect y="46" width="522" height="138" fill="#f1f1f4"/>
 <text class="bh" x="261" y="35">CEUTA</text>
 <use href="#ppl" x="33" y="70"/><use href="#sun" x="33" y="117"/><use href="#truck" x="33" y="163"/>
 <text class="bl" x="79" y="81" textLength="255">Pasajeros líneas reg.</text>
 <text class="bl" x="79" y="128" textLength="233">Pasajeros cruceros</text>
 <text class="bl" x="79" y="174" textLength="198">Mercancía ro-ro</text>
 <text class="bv" x="508" y="81">146.889</text><text class="bv" x="508" y="128">848</text><text class="bv" x="508" y="174">50.251</text>
</g>

<g fill="#dde3ea" stroke="#0a355c" stroke-width="7">
 <circle cx="539" cy="2868" r="10"/>
 <circle cx="1178" cy="2659" r="10"/>
 <circle cx="1286" cy="2684" r="10"/>
 <circle cx="1852" cy="3083" r="10"/>
 <circle cx="1651" cy="3417" r="10"/>
 <circle cx="2041" cy="3349" r="10"/>
 <circle cx="280" cy="3999" r="10"/>
 <circle cx="362" cy="4044" r="10"/>
 <circle cx="959" cy="3922" r="10"/>
 <circle cx="974" cy="3968" r="10"/>
 <circle cx="1098" cy="3830" r="10"/>
 <circle cx="1244" cy="3830" r="10"/>
 <circle cx="1293" cy="4076" r="10"/>
</g>
</svg>
</body></html>
